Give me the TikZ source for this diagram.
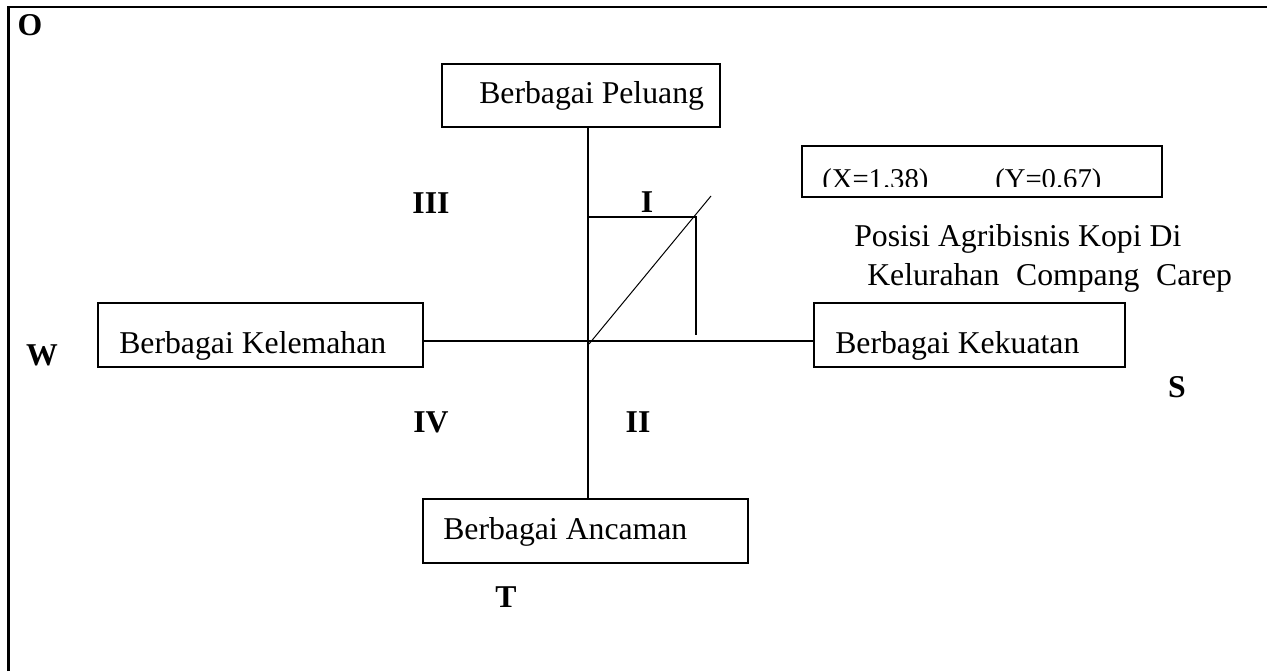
\documentclass[tikz,border=0pt]{standalone}
\usepackage{fontspec}
\setmainfont{Liberation Serif}
\tikzset{
  box/.style={draw, line width=1.5pt, rectangle, inner sep=0pt},
  txt/.style={anchor=base west, inner sep=0pt, font=\fontsize{23.8}{28}\selectfont},
  small/.style={anchor=base west, inner sep=0pt, font=\fontsize{21.5}{25}\selectfont},
  lab/.style={inner sep=0pt, font=\fontsize{23.8}{28}\selectfont\bfseries},
  axis/.style={line width=0.8pt},
  thin/.style={line width=0.75pt},
  thick2/.style={line width=1.5pt}
}
\begin{document}
\begin{tikzpicture}[x=0.75pt,y=-0.75pt]
\useasboundingbox (0,0) rectangle (1267,671);
% frame
\draw[line width=2.2pt] (8.5,671) -- (8.5,7) -- (1267,7);
% boxes
\node[box, minimum width=208.5pt, minimum height=47.25pt] (pel) at (581,95.5) {};
\node[box, minimum width=243.75pt, minimum height=48pt] (kel) at (260.5,335) {};
\node[box, minimum width=233.25pt, minimum height=48pt] (kek) at (969.5,335) {};
\node[box, minimum width=243.75pt, minimum height=48pt] (anc) at (585.5,531) {};
\node[box, minimum width=270pt, minimum height=38.25pt] (val) at (982,171.5) {};
% box texts
\node[txt] (pelt) at (479,103) {Berbagai Peluang};
\node[txt] (kelt) at (119,353) {Berbagai Kelemahan};
\node[txt] (kekt) at (835,353) {Berbagai Kekuatan};
\node[txt] (anct) at (443,539) {Berbagai Ancaman};
\begin{scope}
\clip (802,146) rectangle (1162,186);
\node[small] (valx) at (822,188) {(X=1.38)};
\node[small] (valy) at (995,188) {(Y=0.67)};
\end{scope}
\node[txt] (pos1) at (854,246) {Posisi Agribisnis Kopi Di};
\node[txt] (pos2) at (867,285) {Kelurahan\hspace{12.5pt}Compang\hspace{12.5pt}Carep};
% axes
\coordinate (O) at (588,341);
\draw[axis] (pel.south -| O) -- (anc.north -| O);
\draw[axis] (kel.east |- O) -- (kek.west |- O);
% position marker
\coordinate (D0) at (589,344);
\coordinate (D1) at (711,196);
\coordinate (P) at (696,217);
\coordinate (Pb) at (696,335);
\draw[thin] (D0) -- (D1);
\draw[thick2] (O |- P) -- (P) -- (Pb);
% labels
\node[lab] (lO) at (30,25) {O};
\node[lab] (lIII) at (431,203) {III};
\node[lab] (lI) at (647,202) {I};
\node[lab] (lIV) at (431,422) {IV};
\node[lab] (lII) at (638,422) {II};
\node[lab] (lW) at (42,355) {W};
\node[lab] (lS) at (1177,387) {S};
\node[lab] (lT) at (506,597) {T};
\end{tikzpicture}
\end{document}
